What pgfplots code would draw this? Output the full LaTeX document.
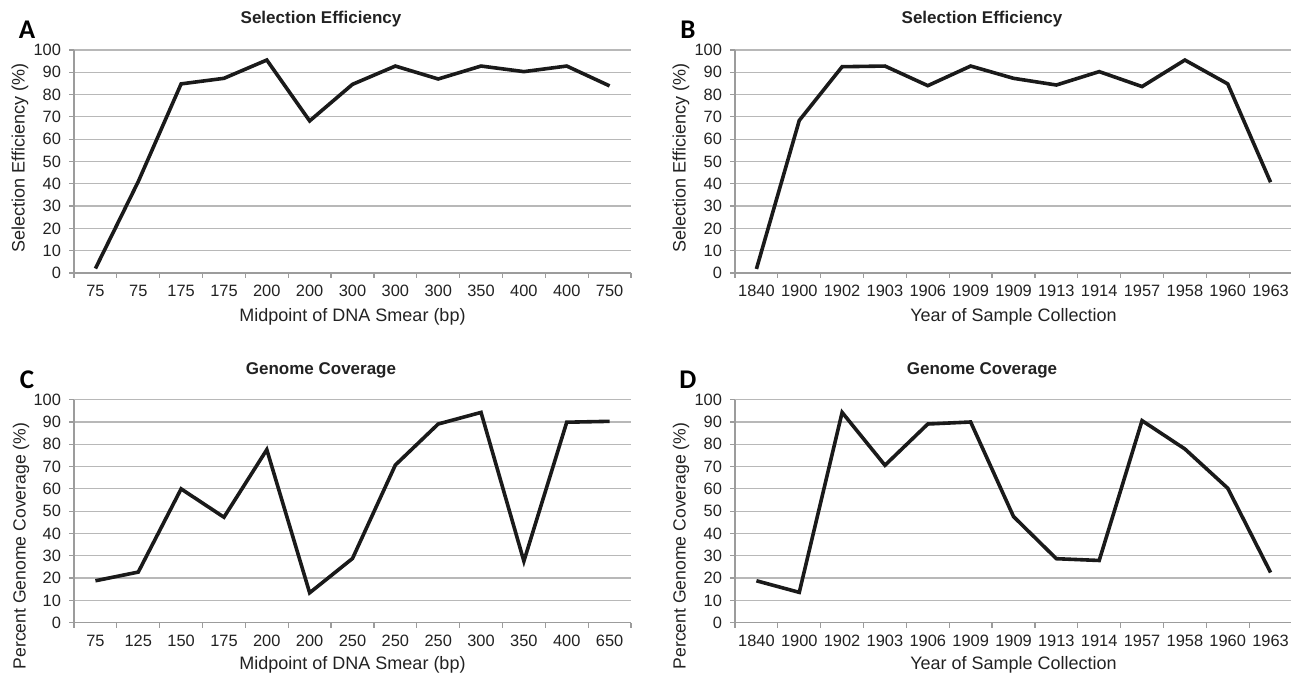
\documentclass[border=0pt]{standalone}
\usepackage{pgfplots}
\pgfplotsset{compat=1.18}
\usepackage{fontspec}
\setmainfont{Liberation Sans}
\newfontfamily\letterfont{Carlito}
\definecolor{axisgray}{HTML}{9C9C9C}
\definecolor{gridgray}{HTML}{B8B8B8}
\definecolor{linecol}{HTML}{1A1A1A}
\definecolor{textcol}{HTML}{222222}
\pgfplotsset{
  panel/.style={
    scale only axis, width=278.5pt, height=111.5pt,
    xmin=-0.5, xmax=12.5, ymin=0, ymax=100,
    xtick={-0.5,0.5,...,12.5}, x tick label as interval=true,
    ytick={0,10,...,100},
    tick align=outside, major tick length=2.5pt,
    axis x line*=bottom, axis y line*=left,
    axis line style={draw=axisgray, line width=0.6pt, -},
    tick style={draw=axisgray, line width=0.6pt},
    ymajorgrids, grid style={draw=gridgray, line width=0.6pt},
    tick label style={font=\fontsize{8.2pt}{9pt}\selectfont, text=textcol},
    yticklabel style={xshift=-0.5pt},
    /pgf/number format/assume math mode=true,
    clip=false,
  },
  dline/.style={draw=linecol, line width=1.8pt, mark=none, line join=miter},
}
\begin{document}
\begin{tikzpicture}
\useasboundingbox (0,0) rectangle (645.5pt,337pt);
% ---------- A ----------
\begin{axis}[panel, at={(37pt,200.5pt)}, anchor=south west,
  xticklabels={75,75,175,175,200,200,300,300,300,350,400,400,750}]
\addplot[dline] coordinates {(0,2) (1,41) (2,84.8) (3,87.3) (4,95.5) (5,68.2) (6,84.6) (7,92.8) (8,87) (9,92.8) (10,90.3) (11,92.8) (12,83.9)};
\end{axis}
% ---------- B ----------
\begin{axis}[panel, at={(367.5pt,200.5pt)}, anchor=south west,
  xticklabels={1840,1900,1902,1903,1906,1909,1909,1913,1914,1957,1958,1960,1963}]
\addplot[dline] coordinates {(0,1.8) (1,68.4) (2,92.5) (3,92.8) (4,84) (5,92.8) (6,87.3) (7,84.3) (8,90.3) (9,83.6) (10,95.5) (11,84.8) (12,40.7)};
\end{axis}
% ---------- C ----------
\begin{axis}[panel, at={(37pt,25.65pt)}, anchor=south west,
  xticklabels={75,125,150,175,200,200,250,250,250,300,350,400,650}]
\addplot[dline] coordinates {(0,18.8) (1,22.7) (2,60) (3,47.3) (4,77.6) (5,13.4) (6,28.8) (7,70.7) (8,89.1) (9,94.3) (10,27.6) (11,89.9) (12,90.3)};
\end{axis}
% ---------- D ----------
\begin{axis}[panel, at={(367.5pt,25.65pt)}, anchor=south west,
  xticklabels={1840,1900,1902,1903,1906,1909,1909,1913,1914,1957,1958,1960,1963}]
\addplot[dline] coordinates {(0,18.8) (1,13.6) (2,94.3) (3,70.6) (4,89.1) (5,90) (6,47.6) (7,28.7) (8,27.9) (9,90.6) (10,77.9) (11,60.3) (12,22.5)};
\end{axis}
% titles
\begin{scope}[every node/.style={text=textcol}]
\node[font=\fontsize{8.5pt}{10pt}\selectfont\bfseries] at (160.5pt,327.5pt) {Selection Efficiency};
\node[font=\fontsize{8.5pt}{10pt}\selectfont\bfseries] at (491pt,327.5pt) {Selection Efficiency};
\node[font=\fontsize{8.5pt}{10pt}\selectfont\bfseries] at (160.5pt,152pt) {Genome Coverage};
\node[font=\fontsize{8.5pt}{10pt}\selectfont\bfseries] at (491pt,152pt) {Genome Coverage};
% letters
\node[font=\fontsize{13.5pt}{14pt}\letterfont\bfseries, text=black] at (13.5pt,322pt) {A};
\node[font=\fontsize{13.5pt}{14pt}\letterfont\bfseries, text=black] at (344pt,322pt) {B};
\node[font=\fontsize{13.5pt}{14pt}\letterfont\bfseries, text=black] at (13.5pt,147pt) {C};
\node[font=\fontsize{13.5pt}{14pt}\letterfont\bfseries, text=black] at (344pt,147pt) {D};
% y labels
\node[font=\fontsize{9pt}{10pt}\selectfont, rotate=90] at (10pt,258pt) {Selection Efficiency (\%)};
\node[font=\fontsize{9pt}{10pt}\selectfont, rotate=90] at (340.5pt,258pt) {Selection Efficiency (\%)};
\node[font=\fontsize{8.8pt}{10pt}\selectfont, rotate=90] at (10.5pt,64pt) {Percent Genome Coverage (\%)};
\node[font=\fontsize{8.8pt}{10pt}\selectfont, rotate=90] at (340.5pt,64pt) {Percent Genome Coverage (\%)};
% x labels
\node[font=\fontsize{9pt}{10pt}\selectfont] at (176.25pt,178.5pt) {Midpoint of DNA Smear (bp)};
\node[font=\fontsize{9pt}{10pt}\selectfont] at (506.75pt,178.5pt) {Year of Sample Collection};
\node[font=\fontsize{9pt}{10pt}\selectfont] at (176.25pt,4.5pt) {Midpoint of DNA Smear (bp)};
\node[font=\fontsize{9pt}{10pt}\selectfont] at (506.75pt,4.5pt) {Year of Sample Collection};
\end{scope}
\end{tikzpicture}
\end{document}
